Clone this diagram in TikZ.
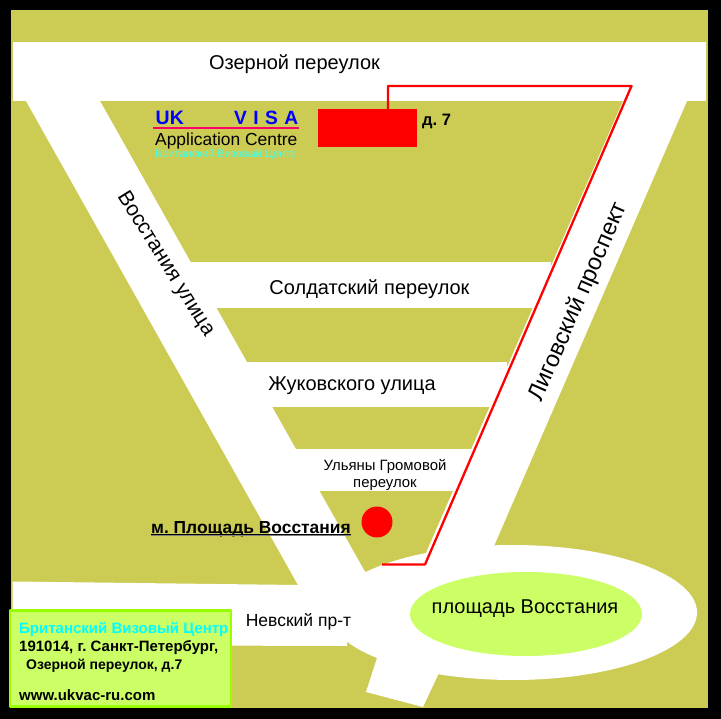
\documentclass[tikz,border=0pt]{standalone}
\usepackage{fontspec}
\setmainfont{Liberation Sans}
\definecolor{olive}{HTML}{CCCC55}
\definecolor{lime}{HTML}{CCFF66}
\definecolor{limeline}{HTML}{99FF00}
\definecolor{aqua}{HTML}{00FFFF}
\definecolor{paleaqua}{HTML}{44FFE8}
\definecolor{rose}{HTML}{FF0066}
\tikzset{
	road/.style={fill=white,draw=none},
	streetname/.style={inner sep=0pt,font=\fontsize{#1}{#1}\selectfont},
	boldname/.style={inner sep=0pt,anchor=base west,font=\fontsize{#1}{#1}\selectfont\bfseries},
	route/.style={draw=red,line width=2.3pt}
}
\begin{document}
\frenchspacing
\begin{tikzpicture}[x=1pt,y=-1pt,line join=round]
	\useasboundingbox (0,0) rectangle (721,719);
	\fill[black] (0,0) rectangle (721,719);
	\fill[olive] (10.5,10.5) rectangle (708,708);
	% roads
	\fill[road] (12.5,42) rectangle (706,101);
	\fill[road] (26,101) -- (100,101) -- (364,570) -- (420,640) -- (298,585) -- cycle;
	\fill[road] (623,101) -- (687,101) -- (494,546) -- (420,600) -- (426,553) -- cycle;
	\fill[road] (12.5,581.5) -- (298,585) -- (350,600) -- (347,646) -- (12.5,645) -- cycle;
	\fill[road] (190,262) rectangle (551,308);
	\fill[road] (247,362) rectangle (507,407);
	\fill[road] (295,449) rectangle (472,491);
	\fill[road] (378,655) -- (366,692) -- (423,707) -- (445,660) -- cycle;
	\fill[road] (513,612.5) ellipse (184 and 67.5);
	\fill[lime] (526,614) ellipse (116 and 42);
	% buildings and route
	\fill[red] (318,109) rectangle (417,147);
	\fill[red] (377,522) circle (15.5);
	\coordinate (routeA) at (388,109);
	\coordinate (routeB) at (388,86);
	\coordinate (routeC) at (631.5,86);
	\coordinate (routeD) at (425,564.5);
	\coordinate (routeE) at (382,564.5);
	\draw[route] (routeA) -- (routeB) -- (routeC) -- (routeD) -- (routeE);
	% street names
	\node[streetname=20] (ozerny) at (294.5,64) {Озерной переулок};
	\node[streetname=20] (soldat) at (369.5,289) {Солдатский переулок};
	\node[streetname=20] (zhuk) at (352,386) {Жуковского улица};
	\node[streetname=14.9,align=center] (ulyany) at (385,475) {Ульяны Громовой\\[1.5pt]переулок};
	\node[streetname=21,rotate=-58] (vosst) at (165.5,264) {Восстания улица};
	\node[streetname=23.5,rotate=66.5] (ligov) at (578.5,302) {Лиговский проспект};
	\node[streetname=17.5] (nevsky) at (298.5,622) {Невский пр-т};
	\node[streetname=20] (plosh) at (525,609) {площадь Восстания};
	\node[boldname=17.4] (metro) at (151,533) {м. Площадь Восстания};
	\draw[gray,line width=1pt] ([yshift=-2.6pt]metro.base west) -- ([yshift=-2.6pt]metro.base east);
	\draw[black,line width=1pt] ([yshift=-1.6pt]metro.base west) -- ([yshift=-1.6pt]metro.base east);
	\node[boldname=16.5] (dom) at (422,125.5) {д. 7};
	% logo
	\node[boldname=19.5,text=blue] (uk) at (155.5,125) {UK};
	\node[boldname=19.2,text=blue] (visa) at (234,125) {V\,\,I\,\,S\,\,A};
	\draw[draw=rose,line width=2.7pt] (153,128) -- (299,128);
	\node[streetname=17.4,anchor=base west] (appl) at (155,145.5) {Application Centre};
	\node[streetname=11,anchor=base west,text=paleaqua] (brit) at (155,158) {Британский Визовый Центр};
	% address box
	\draw[fill=lime,draw=limeline,line width=2.6pt] (10,610.5) rectangle (231,706.5);
	\node[boldname=15,text=aqua] (addrA) at (19,633) {Британский Визовый Центр};
	\node[boldname=15] (addrB) at (19,651) {191014, г. Санкт-Петербург,};
	\node[boldname=14] (addrC) at (26,669) {Озерной переулок, д.7};
	\node[boldname=15] (addrD) at (19,700) {www.ukvac-ru.com};
\end{tikzpicture}
\end{document}
